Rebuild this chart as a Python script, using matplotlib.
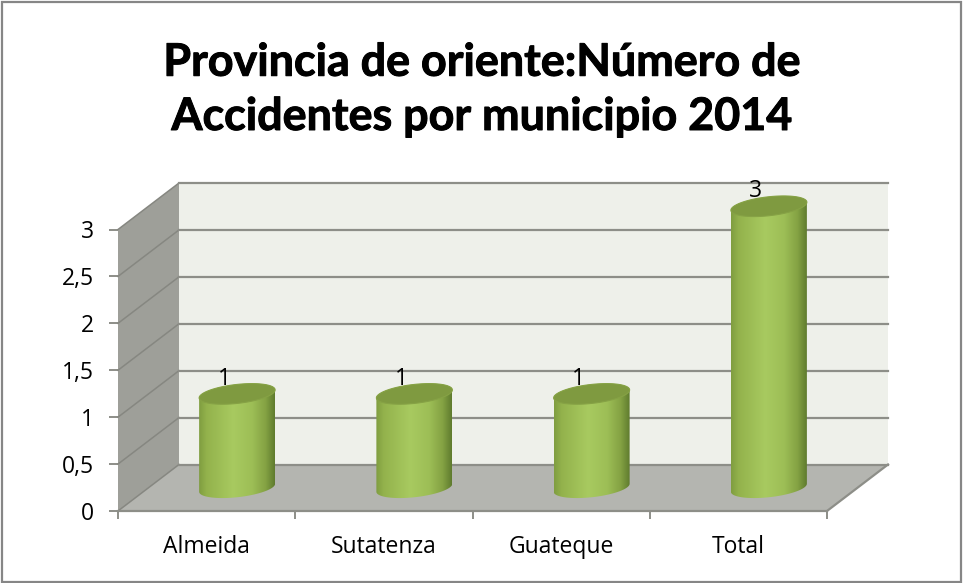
import numpy as np
import matplotlib
matplotlib.use("Agg")
import matplotlib.pyplot as plt
import matplotlib.patheffects as pe
from matplotlib.colors import LinearSegmentedColormap
from matplotlib.patches import PathPatch, Polygon, Rectangle
from matplotlib.path import Path

categories = ["Almeida", "Sutatenza", "Guateque", "Total"]
values = [1, 1, 1, 3]
y_ticks = [0, 0.5, 1, 1.5, 2, 2.5, 3]
y_tick_labels = ["0", "0,5", "1", "1,5", "2", "2,5", "3"]
title = "Provincia de oriente:Número de\nAccidentes por municipio 2014"

W, H = 965, 583
FONT = "Open Sans"
GRID = "#8D8E88"

fig = plt.figure(figsize=(W / 100, H / 100), dpi=100, facecolor="white")
fig.add_artist(Rectangle((1.5 / W, 1.5 / H), 959.5 / W, 580 / H, transform=fig.transFigure,
                         fill=False, edgecolor="#868686", linewidth=1.6))

L, R, T, B = 118, 827, 229.5, 511
ax = fig.add_axes([L / W, 1 - B / H, (R - L) / W, (B - T) / H])
ax.set_xlim(-0.5, 3.5)
ax.set_ylim(0, 3)
ax.patch.set_visible(False)

DX = 61 / ((R - L) / 4)      # depth shift in category units
DY = 46.5 / ((B - T) / 3)    # depth shift in value units
x0, x1 = -0.5, 3.5
top = y_ticks[-1]

ax.add_patch(Polygon([(x0 + DX, DY), (x1 + DX, DY), (x1 + DX, top + DY), (x0 + DX, top + DY)],
                     facecolor="#EEF0EA", edgecolor="none", clip_on=False, zorder=1))
ax.add_patch(Polygon([(x0, 0), (x0 + DX, DY), (x0 + DX, top + DY), (x0, top)],
                     facecolor="#9E9F99", edgecolor="none", clip_on=False, zorder=1))
ax.add_patch(Polygon([(x0, 0), (x1, 0), (x1 + DX, DY), (x0 + DX, DY)],
                     facecolor="#B4B5B0", edgecolor="none", clip_on=False, zorder=1.5))
for v in y_ticks:
    ax.plot([x0, x0 + DX], [v, v + DY], color="#868781", lw=1.1, clip_on=False, zorder=2)
    ax.plot([x0 + DX, x1 + DX], [v + DY, v + DY], color=GRID, lw=1.6, clip_on=False, zorder=2)
ax.plot([x1, x1 + DX], [0, DY], color=GRID, lw=1.6, clip_on=False, zorder=2)

cmap = LinearSegmentedColormap.from_list("cyl", [
    (0.00, "#7F9D40"), (0.10, "#93B24C"), (0.45, "#A8CA60"),
    (0.70, "#9DBE56"), (0.88, "#84A243"), (1.00, "#5F7B2E")])
grad = np.linspace(0, 1, 256)[None, :]

A = 38 / ((R - L) / 4)
BY = 9.5 / ((B - T) / 3)
TILT = 4 / ((B - T) / 3)

def ellipse_pts(cx, cy, t):
    return np.column_stack([cx + A * np.cos(t), cy + BY * np.sin(t) + TILT * np.cos(t)])

for i, v in enumerate(values):
    cx = i + DX / 2
    cy = DY / 2
    lower = ellipse_pts(cx, cy, np.linspace(np.pi, 2 * np.pi, 60))
    upper = ellipse_pts(cx, cy + v, np.linspace(0, np.pi, 60))
    pts = np.vstack([lower, upper, lower[:1]])
    patch = PathPatch(Path(pts), facecolor="none", edgecolor="none", clip_on=False, zorder=3)
    ax.add_patch(patch)
    im = ax.imshow(grad, extent=(cx - A, cx + A, cy - BY * 1.5, cy + v + BY * 1.5),
                   cmap=cmap, aspect="auto", zorder=3, interpolation="bilinear")
    im.set_clip_box(fig.bbox)
    im.set_clip_path(patch)
    ax.add_patch(Polygon(ellipse_pts(cx, cy + v, np.linspace(0, 2 * np.pi, 120)),
                         facecolor="#7F9A40", edgecolor="#86A245", lw=0.8, clip_on=False, zorder=4))
    ax.annotate(str(v), xy=(cx, cy + v), xytext=(-9.5, 11), textcoords="offset points",
                ha="center", va="center", fontsize=16.5, family=FONT, color="black",
                annotation_clip=False, zorder=5)

ax.set_xlim(-0.5, 3.5)
ax.set_ylim(0, 3)

for s in ("top", "right", "left"):
    ax.spines[s].set_visible(False)
ax.spines["bottom"].set_color(GRID)
ax.spines["bottom"].set_linewidth(1.6)
ax.spines["bottom"].set_zorder(2.5)

ax.set_xticks(range(len(categories)))
ax.set_xticklabels(categories, fontsize=16.5, family=FONT, color="black")
ax.set_xticks(np.arange(-0.5, 4, 1), minor=True)
ax.tick_params(axis="x", which="major", length=0, pad=17)
ax.tick_params(axis="x", which="minor", length=6, width=1.4, color=GRID)
ax.set_yticks(y_ticks)
ax.set_yticklabels(y_tick_labels, fontsize=16.5, family=FONT, color="black")
ax.tick_params(axis="y", length=6.5, width=1.4, color=GRID, pad=11)

t = fig.text(481.5 / W, 1 - 130 / H, title, ha="center", va="baseline", fontsize=32.3, fontweight="bold",
             family="Lato", color="black", linespacing=1.36)
t.set_path_effects([pe.withStroke(linewidth=0.7, foreground="black")])

fig.savefig("out.png", dpi=100, facecolor="white")
